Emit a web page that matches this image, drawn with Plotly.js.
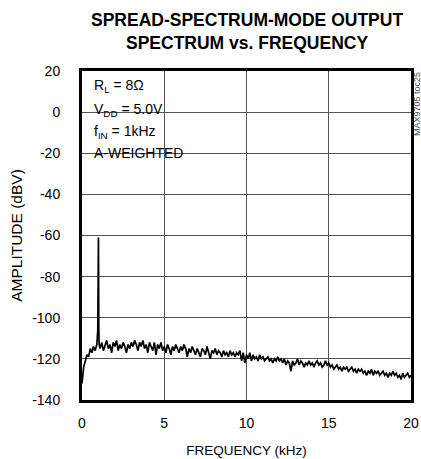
<!DOCTYPE html>
<html>
<head>
<meta charset="utf-8">
<script src="https://cdn.plot.ly/plotly-3.0.1.min.js"></script>
<style>html,body{margin:0;padding:0;background:#fff;}#chart{width:421px;height:459px;}</style>
</head>
<body>
<div id="chart"></div>
<script>
// Frequency (kHz)
const freqKHz = [
0.0,0.1,0.2,0.3,0.4,0.5,0.6,0.7,0.8,0.9,0.96,0.98,1.0,1.02,1.04,
1.1,1.2,1.3,1.4,1.5,1.6,1.7,1.8,1.9,2.0,2.1,2.2,2.3,2.4,2.5,2.6,2.7,2.8,2.9,
3.0,3.1,3.2,3.3,3.4,3.5,3.6,3.7,3.8,3.9,4.0,4.1,4.2,4.3,4.4,4.5,4.6,4.7,4.8,4.9,
5.0,5.1,5.2,5.3,5.4,5.5,5.6,5.7,5.8,5.9,6.0,6.1,6.2,6.3,6.4,6.5,6.6,6.7,6.8,6.9,
7.0,7.1,7.2,7.3,7.4,7.5,7.6,7.7,7.8,7.9,8.0,8.1,8.2,8.3,8.4,8.5,8.6,8.7,8.8,8.9,
9.0,9.1,9.2,9.3,9.4,9.5,9.6,9.7,9.8,9.9,10.0,10.1,10.2,10.3,10.4,10.5,10.6,10.7,10.8,10.9,
11.0,11.1,11.2,11.3,11.4,11.5,11.6,11.7,11.8,11.9,12.0,12.1,12.2,12.3,12.4,12.5,12.6,12.7,12.8,12.9,
13.0,13.1,13.2,13.3,13.4,13.5,13.6,13.7,13.8,13.9,14.0,14.1,14.2,14.3,14.4,14.5,14.6,14.7,14.8,14.9,
15.0,15.1,15.2,15.3,15.4,15.5,15.6,15.7,15.8,15.9,16.0,16.1,16.2,16.3,16.4,16.5,16.6,16.7,16.8,16.9,
17.0,17.1,17.2,17.3,17.4,17.5,17.6,17.7,17.8,17.9,18.0,18.1,18.2,18.3,18.4,18.5,18.6,18.7,18.8,18.9,
19.0,19.1,19.2,19.3,19.4,19.5,19.6,19.7,19.8,19.9,20.0
];
// Amplitude (dBV)
const amplitudeDBV = [
-132,-124,-121,-118,-119,-115,-117,-114,-116,-113,-106,-61,-61,-104,-113,
-115,-112,-116,-113,-111,-115,-113,-117,-112,-114,-111,-116,-113,-115,-112,-114,-117,-113,-115,
-112,-114,-111,-113,-116,-112,-114,-111,-115,-113,-117,-112,-114,-116,-112,-118,-113,-115,-112,-116,
-114,-117,-113,-115,-118,-114,-116,-113,-115,-117,-114,-116,-113,-115,-119,-115,-117,-114,-116,-118,
-115,-117,-119,-115,-116,-118,-114,-117,-120,-116,-117,-115,-118,-116,-117,-119,-116,-118,-117,-119,
-116,-118,-117,-119,-117,-118,-116,-121,-117,-122,-118,-120,-117,-121,-118,-120,-119,-121,-118,-120,
-119,-121,-120,-119,-121,-120,-122,-120,-121,-119,-121,-120,-122,-120,-123,-121,-122,-126,-121,-123,
-122,-120,-123,-121,-122,-124,-122,-123,-121,-123,-122,-124,-122,-121,-123,-122,-124,-123,-121,-123,
-122,-124,-123,-125,-124,-123,-125,-124,-126,-124,-125,-124,-126,-125,-124,-126,-125,-127,-125,-126,
-125,-127,-126,-128,-126,-127,-125,-128,-126,-127,-126,-128,-127,-126,-128,-127,-129,-127,-128,-126,
-128,-127,-129,-128,-130,-127,-129,-128,-127,-129,-128
];
const xTickVals = [0, 5, 10, 15, 20];
const yTickVals = [-140, -120, -100, -80, -60, -40, -20, 0, 20];
const titleText = '<b>SPREAD-SPECTRUM-MODE OUTPUT</b><br><b>SPECTRUM vs. FREQUENCY</b>';
const xTitle = 'FREQUENCY (kHz)';
const yTitle = 'AMPLITUDE (dBV)';
const conditionLines = ['R<sub>L</sub> = 8Ω', 'V<sub>DD</sub> = 5.0V', 'f<sub>IN</sub> = 1kHz', 'A-WEIGHTED'];
const figureId = 'MAX9705 toc25';

const FONT = '"Liberation Sans Narrow", "Liberation Sans", Arial, sans-serif';

const trace = {
  x: freqKHz, y: amplitudeDBV, type: 'scatter', mode: 'lines',
  line: {color: '#000', width: 1.7}, hoverinfo: 'skip'
};

const condY = [0.954, 0.882, 0.815, 0.752];
const annotations = conditionLines.map((t, i) => ({
  text: t, xref: 'paper', yref: 'paper', x: 0.03, y: condY[i],
  xanchor: 'left', yanchor: 'middle', showarrow: false, align: 'left',
  font: {family: FONT, size: 14, color: '#000'}
}));
annotations.push({
  text: figureId, xref: 'paper', yref: 'paper', x: 1.018, y: 1.003,
  xanchor: 'center', yanchor: 'top', showarrow: false, textangle: -90,
  font: {family: FONT, size: 9, color: '#444'}
});
annotations.push({
  text: titleText, xref: 'paper', yref: 'paper', x: 0.5, y: 1.19,
  xanchor: 'center', yanchor: 'top', showarrow: false, align: 'center',
  font: {family: FONT, size: 17.5, color: '#000'}
});

const layout = {
  width: 421, height: 459,
  margin: {l: 82, r: 10, t: 71, b: 59},
  paper_bgcolor: '#fff', plot_bgcolor: '#fff',
  showlegend: false,
  xaxis: {
    range: [0, 20], tickvals: xTickVals, ticktext: xTickVals.map(String), ticks: '',
    showgrid: true, gridcolor: '#555', gridwidth: 1, zeroline: false,
    showline: true, mirror: true, linecolor: '#000', linewidth: 3,
    ticklabelstandoff: 8,
    tickfont: {family: FONT, size: 14, color: '#000'},
    title: {text: xTitle, font: {family: FONT, size: 13.5, color: '#000'}, standoff: 16}
  },
  yaxis: {
    range: [-140, 20], tickvals: yTickVals, ticktext: yTickVals.map(String), ticks: '',
    showgrid: true, gridcolor: '#555', gridwidth: 1, zeroline: false,
    showline: true, mirror: true, linecolor: '#000', linewidth: 3,
    ticklabelstandoff: 16,
    tickfont: {family: FONT, size: 14, color: '#000'},
    title: {text: yTitle, font: {family: FONT, size: 15.5, color: '#000'}, standoff: 6}
  },
  shapes: [{
    type: 'rect', xref: 'paper', yref: 'paper', x0: 0.028, x1: 0.328, y0: 0.714, y1: 0.985,
    fillcolor: '#fff', line: {width: 0}, layer: 'between'
  }],
  annotations: annotations
};

Plotly.newPlot('chart', [trace], layout, {displayModeBar: false, staticPlot: true});
</script>
</body>
</html>
